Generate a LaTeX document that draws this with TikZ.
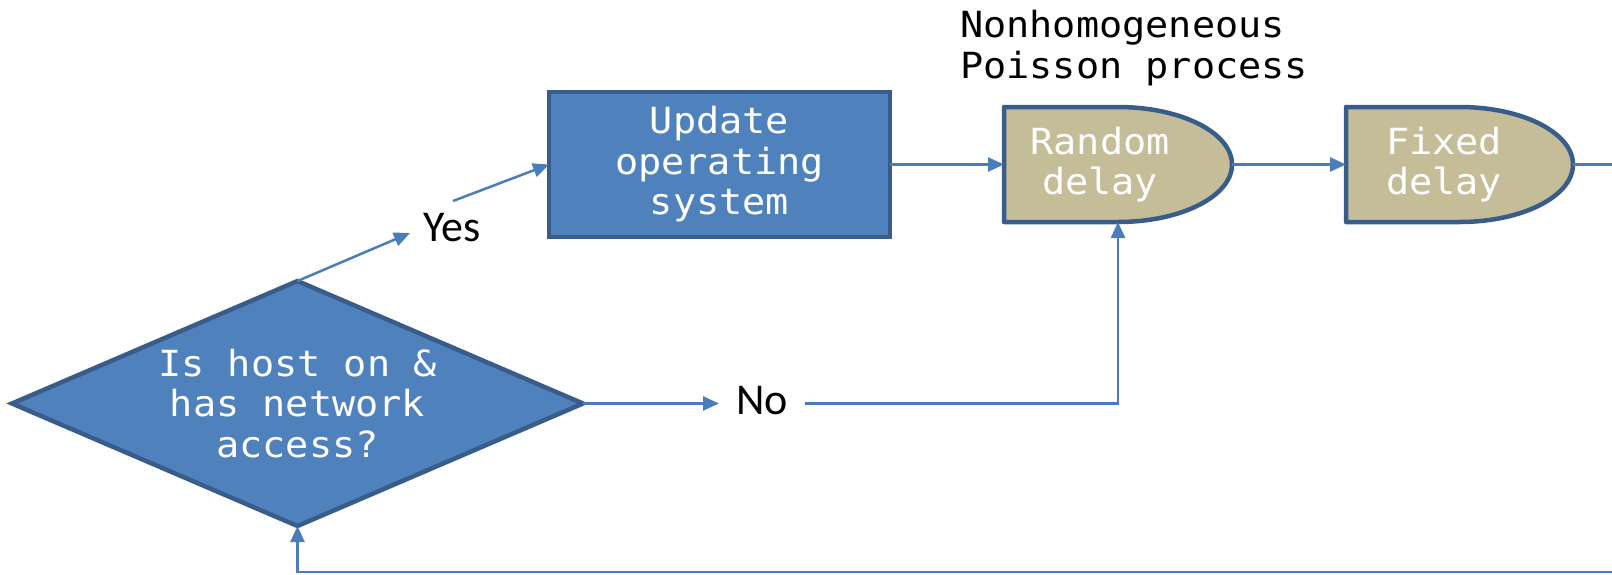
\documentclass[tikz,border=0pt]{standalone}
\usepackage{fontspec}
\setmainfont{Carlito}
\newfontfamily\codefont{DejaVu Sans Mono}[FakeStretch=1.07]
\usetikzlibrary{arrows.meta,shapes.geometric}

\definecolor{boxblue}{HTML}{4F81BD}
\definecolor{edgeblue}{HTML}{385D8A}
\definecolor{delaytan}{HTML}{C4BD97}
\definecolor{wireblue}{HTML}{4A7EBB}

\tikzset{
  monotext/.style={font=\codefont\fontsize{36}{40.5}\selectfont, align=center},
  whitetext/.style={monotext, text=white, inner sep=0pt},
  process/.style={rectangle, draw=edgeblue, fill=boxblue, line width=4.5pt,
    outer sep=0pt, inner sep=0pt, monotext, text=white},
  decision/.style={diamond, draw=edgeblue, fill=boxblue, line width=4.5pt,
    outer sep=0pt, inner sep=0pt, monotext, text=white},
  delaybox/.style={rectangle, outer sep=0pt, inner sep=0pt},
  delayline/.style={draw=edgeblue, fill=delaytan, line width=4.5pt, line join=round},
  wire/.style={draw=wireblue, line width=2.5pt},
  arr/.style={wire, -{Triangle[length=16pt,width=14pt]}},
  answer/.style={font=\fontsize{44}{48}\selectfont, inner sep=0pt}
}

\begin{document}
\begin{tikzpicture}[x=1pt, y=-1pt]
  \useasboundingbox (0,0) rectangle (1612,574);

  % decision
  \node[decision, minimum width=571pt, minimum height=245pt, aspect=2.33]
    (dia) at (297.5,403.5) {Is host on \&\\has network\\access?};

  % update step
  \node[process, minimum width=341pt, minimum height=145pt]
    (upd) at (719.5,164.5) {Update\\operating\\system};

  % delay blocks: flat-topped box with a half-ellipse on the right
  \node[delaybox, minimum width=228pt, minimum height=115pt] (rnd) at (1118,164.5) {};
  \draw[delayline] (rnd.north west) -- (rnd.north)
    arc[start angle=90, end angle=-90, x radius=114pt, y radius=57.5pt]
    -- (rnd.south west) -- cycle;
  \node[whitetext] (rndtext) at ([xshift=-18pt]rnd.center) {Random\\delay};

  \node[delaybox, minimum width=227pt, minimum height=115pt] (fix) at (1459.5,164.5) {};
  \draw[delayline] (fix.north west) -- (fix.north)
    arc[start angle=90, end angle=-90, x radius=113.5pt, y radius=57.5pt]
    -- (fix.south west) -- cycle;
  \node[whitetext] (fixtext) at ([xshift=-15.5pt]fix.center) {Fixed\\delay};

  % caption above the random delay (anchored on its last baseline)
  \node[monotext, align=left, anchor=base west, inner sep=0pt]
    (nhpp) at (960,78) {Nonhomogeneous\\Poisson process};

  % branch labels
  \node[answer] (yes) at (452,228) {Yes};
  \node[answer] (no) at (762,401) {No};
  \coordinate (yesIn) at (410,233);
  \coordinate (yesOut) at (453,201);
  \coordinate (noIn) at (719,403.5);
  \coordinate (noOut) at (805,403.5);
  \coordinate (outRight) at (1612,164.5);
  \coordinate (loopIn) at (1612,572);

  % connectors
  \draw[arr] (dia.north) -- (yesIn);
  \draw[arr] (yesOut) -- (upd.west);
  \draw[arr] (upd.east) -- (rnd.west);
  \draw[arr] (rnd.east) -- (fix.west);
  \draw[wire] (fix.east) -- (outRight);
  \draw[arr] (dia.east) -- (noIn);
  \draw[arr] (noOut) -| (rnd.south);
  \draw[arr] (loopIn) -| (dia.south);
\end{tikzpicture}
\end{document}
